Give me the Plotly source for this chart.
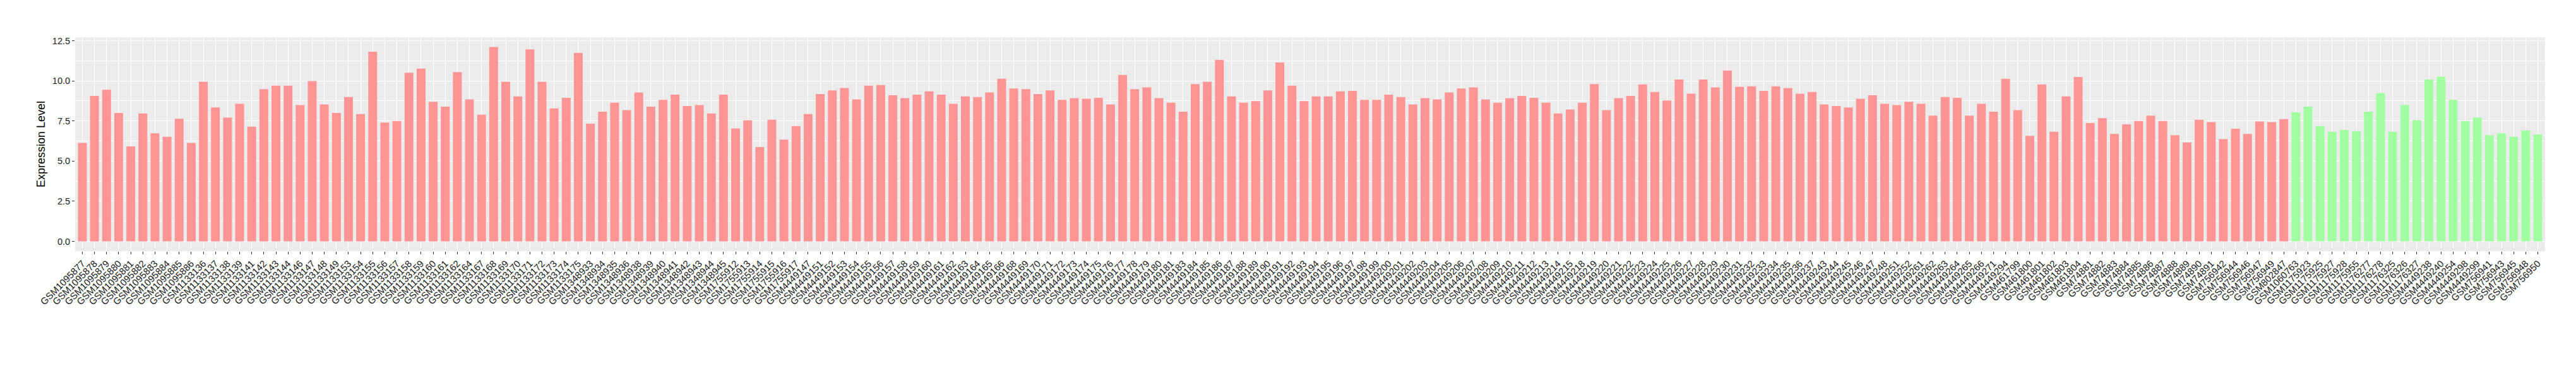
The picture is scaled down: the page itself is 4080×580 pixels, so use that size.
import plotly.graph_objects as go

# ---- data ----
samples_red = [
    "GSM1095877", "GSM1095878", "GSM1095879", "GSM1095880", "GSM1095881", "GSM1095882",
    "GSM1095883", "GSM1095884", "GSM1095885", "GSM1095886", "GSM1133136", "GSM1133137",
    "GSM1133138", "GSM1133139", "GSM1133141", "GSM1133142", "GSM1133143", "GSM1133144",
    "GSM1133146", "GSM1133147", "GSM1133148", "GSM1133149", "GSM1133153", "GSM1133154",
    "GSM1133155", "GSM1133156", "GSM1133157", "GSM1133158", "GSM1133159", "GSM1133160",
    "GSM1133161", "GSM1133162", "GSM1133164", "GSM1133167", "GSM1133168", "GSM1133169",
    "GSM1133170", "GSM1133171", "GSM1133172", "GSM1133173", "GSM1133174", "GSM1133175",
    "GSM1348933", "GSM1348934", "GSM1348935", "GSM1348936", "GSM1348938", "GSM1348939",
    "GSM1348940", "GSM1348941", "GSM1348942", "GSM1348943", "GSM1348944", "GSM1348945",
    "GSM1755912", "GSM1755913", "GSM1755914", "GSM1755915", "GSM1755916", "GSM1755917",
    "GSM4449147", "GSM4449151", "GSM4449152", "GSM4449153", "GSM4449154", "GSM4449155",
    "GSM4449156", "GSM4449157", "GSM4449158", "GSM4449159", "GSM4449160", "GSM4449161",
    "GSM4449162", "GSM4449163", "GSM4449164", "GSM4449165", "GSM4449166", "GSM4449168",
    "GSM4449169", "GSM4449170", "GSM4449171", "GSM4449172", "GSM4449173", "GSM4449174",
    "GSM4449175", "GSM4449176", "GSM4449177", "GSM4449178", "GSM4449179", "GSM4449180",
    "GSM4449181", "GSM4449183", "GSM4449184", "GSM4449185", "GSM4449186", "GSM4449187",
    "GSM4449188", "GSM4449189", "GSM4449190", "GSM4449191", "GSM4449192", "GSM4449193",
    "GSM4449194", "GSM4449195", "GSM4449196", "GSM4449197", "GSM4449198", "GSM4449199",
    "GSM4449200", "GSM4449201", "GSM4449202", "GSM4449203", "GSM4449204", "GSM4449205",
    "GSM4449206", "GSM4449207", "GSM4449208", "GSM4449209", "GSM4449210", "GSM4449211",
    "GSM4449212", "GSM4449213", "GSM4449214", "GSM4449215", "GSM4449218", "GSM4449219",
    "GSM4449220", "GSM4449221", "GSM4449222", "GSM4449223", "GSM4449224", "GSM4449225",
    "GSM4449226", "GSM4449227", "GSM4449228", "GSM4449229", "GSM4449230", "GSM4449231",
    "GSM4449232", "GSM4449233", "GSM4449234", "GSM4449235", "GSM4449236", "GSM4449237",
    "GSM4449243", "GSM4449244", "GSM4449245", "GSM4449246", "GSM4449247", "GSM4449248",
    "GSM4449251", "GSM4449252", "GSM4449261", "GSM4449262", "GSM4449263", "GSM4449264",
    "GSM4449265", "GSM4449266", "GSM4449271", "GSM4449294", "GSM461799", "GSM461800",
    "GSM461801", "GSM461802", "GSM461803", "GSM461804", "GSM74881", "GSM74882",
    "GSM74883", "GSM74884", "GSM74885", "GSM74886", "GSM74887", "GSM74888",
    "GSM74889", "GSM74890", "GSM74891", "GSM756942", "GSM756944", "GSM756946",
    "GSM756947", "GSM756949", "GSM802847",
]
values_red = [
    6.13, 9.06, 9.45, 8.00, 5.92, 7.97, 6.73, 6.52, 7.64, 6.13, 9.95, 8.35,
    7.72, 8.57, 7.15, 9.49, 9.70, 9.70, 8.49, 9.99, 8.53, 8.00, 8.99, 7.93,
    11.82, 7.40, 7.50, 10.51, 10.76, 8.70,
    8.39, 10.55, 8.85, 7.89, 12.11, 9.95, 9.03, 11.96, 9.95, 8.29, 8.95, 11.75,
    7.33, 8.08, 8.64, 8.18, 9.28, 8.39,
    8.82, 9.14, 8.43, 8.49, 7.97, 9.14, 7.04, 7.54, 5.88, 7.58, 6.34, 7.19,
    7.93, 9.18, 9.41, 9.55, 8.85,
    9.70, 9.74, 9.10, 8.93, 9.14, 9.35, 9.14, 8.57, 9.03, 8.99, 9.28, 10.13,
    9.53, 9.49, 9.18, 9.41, 8.82, 8.93,
    8.89, 8.95, 8.53, 10.37, 9.49, 9.59, 8.93, 8.64, 8.08, 9.80, 9.95, 11.30,
    9.03, 8.64, 8.74, 9.41, 11.15, 9.70,
    8.74, 9.03, 9.03, 9.35, 9.38, 8.82, 8.82, 9.14, 8.99, 8.53, 8.93, 8.85,
    9.28, 9.53, 9.59, 8.85, 8.64, 8.93,
    9.06, 8.95, 8.64, 7.97, 8.22, 8.64, 9.80, 8.18, 8.93, 9.06, 9.78, 9.31,
    8.78, 10.09, 9.20, 10.09, 9.59,
    10.65, 9.63, 9.66, 9.38, 9.66, 9.55, 9.20, 9.31, 8.53, 8.43, 8.35, 8.89,
    9.10, 8.57, 8.49, 8.70, 8.57, 7.83,
    8.99, 8.95, 7.83, 8.57, 8.08, 10.13, 8.18, 6.58, 9.78, 6.83, 9.03, 10.24,
    7.37, 7.68, 6.69, 7.29, 7.50, 7.83,
    7.50, 6.62, 6.16, 7.58, 7.43, 6.37, 7.02, 6.69, 7.47, 7.43, 7.62,
]

samples_green = [
    "GSM1060763", "GSM1175923", "GSM1175925", "GSM1175927", "GSM1175928", "GSM1175955",
    "GSM1176277", "GSM1176278", "GSM1176325", "GSM1176326", "GSM1176327", "GSM4449238",
    "GSM4449240", "GSM4449254", "GSM4449298", "GSM4449299", "GSM756941", "GSM756943",
    "GSM756945", "GSM756948", "GSM756950",
]
values_green = [
    8.04, 8.39, 7.19, 6.83, 6.94, 6.87, 8.08, 9.24, 6.83, 8.49, 7.54, 10.09,
    10.26, 8.82, 7.50, 7.72, 6.62, 6.73, 6.52, 6.91, 6.66,
]

y_ticks = [0, 2.5, 5, 7.5, 10, 12.5]
y_ticktext = ["0.0", "2.5", "5.0", "7.5", "10.0", "12.5"]

all_samples = samples_red + samples_green
n = len(all_samples)

FONT = "Liberation Sans, Arial, Helvetica, sans-serif"

fig = go.Figure()
fig.add_trace(go.Bar(x=samples_red, y=values_red, marker_color="#FF9494",
                     marker_line_width=0, width=0.73, showlegend=False))
fig.add_trace(go.Bar(x=samples_green, y=values_green, marker_color="#A1FFA1",
                     marker_line_width=0, width=0.73, showlegend=False))

fig.update_layout(
    width=4080, height=580,
    margin=dict(l=111, r=57, t=51, b=190, autoexpand=False),
    paper_bgcolor="white",
    plot_bgcolor="#EBEBEB",
    barmode="overlay",
    font=dict(family=FONT, color="#222222"),
    showlegend=False,
)
fig.update_xaxes(
    type="category",
    categoryorder="array", categoryarray=all_samples,
    tickmode="array", tickvals=all_samples, ticktext=all_samples,
    range=[-0.6, n - 1 + 0.6],
    tickangle=-45,
    tickfont=dict(size=15, color="#1a1a1a", family=FONT),
    ticks="outside", ticklen=4, tickcolor="#333333", tickwidth=1,
    showgrid=True, gridcolor="white", gridwidth=1.3,
    zeroline=False, showline=False, automargin=False,
)
fig.update_yaxes(
    range=[-0.61, 12.72],
    tickmode="array", tickvals=y_ticks, ticktext=y_ticktext,
    tickfont=dict(size=14.5, color="#1a1a1a", family=FONT),
    ticks="outside", ticklen=4, tickcolor="#333333", tickwidth=1,
    showgrid=True, gridcolor="white", gridwidth=1.3,
    minor=dict(dtick=1.25, tick0=0, showgrid=True, gridcolor="white", gridwidth=0.6, ticks=""),
    zeroline=False, showline=False, automargin=False,
    title=dict(text="Expression Level", font=dict(size=18, color="#000000", family=FONT), standoff=6),
)

fig.write_html("out.html")
